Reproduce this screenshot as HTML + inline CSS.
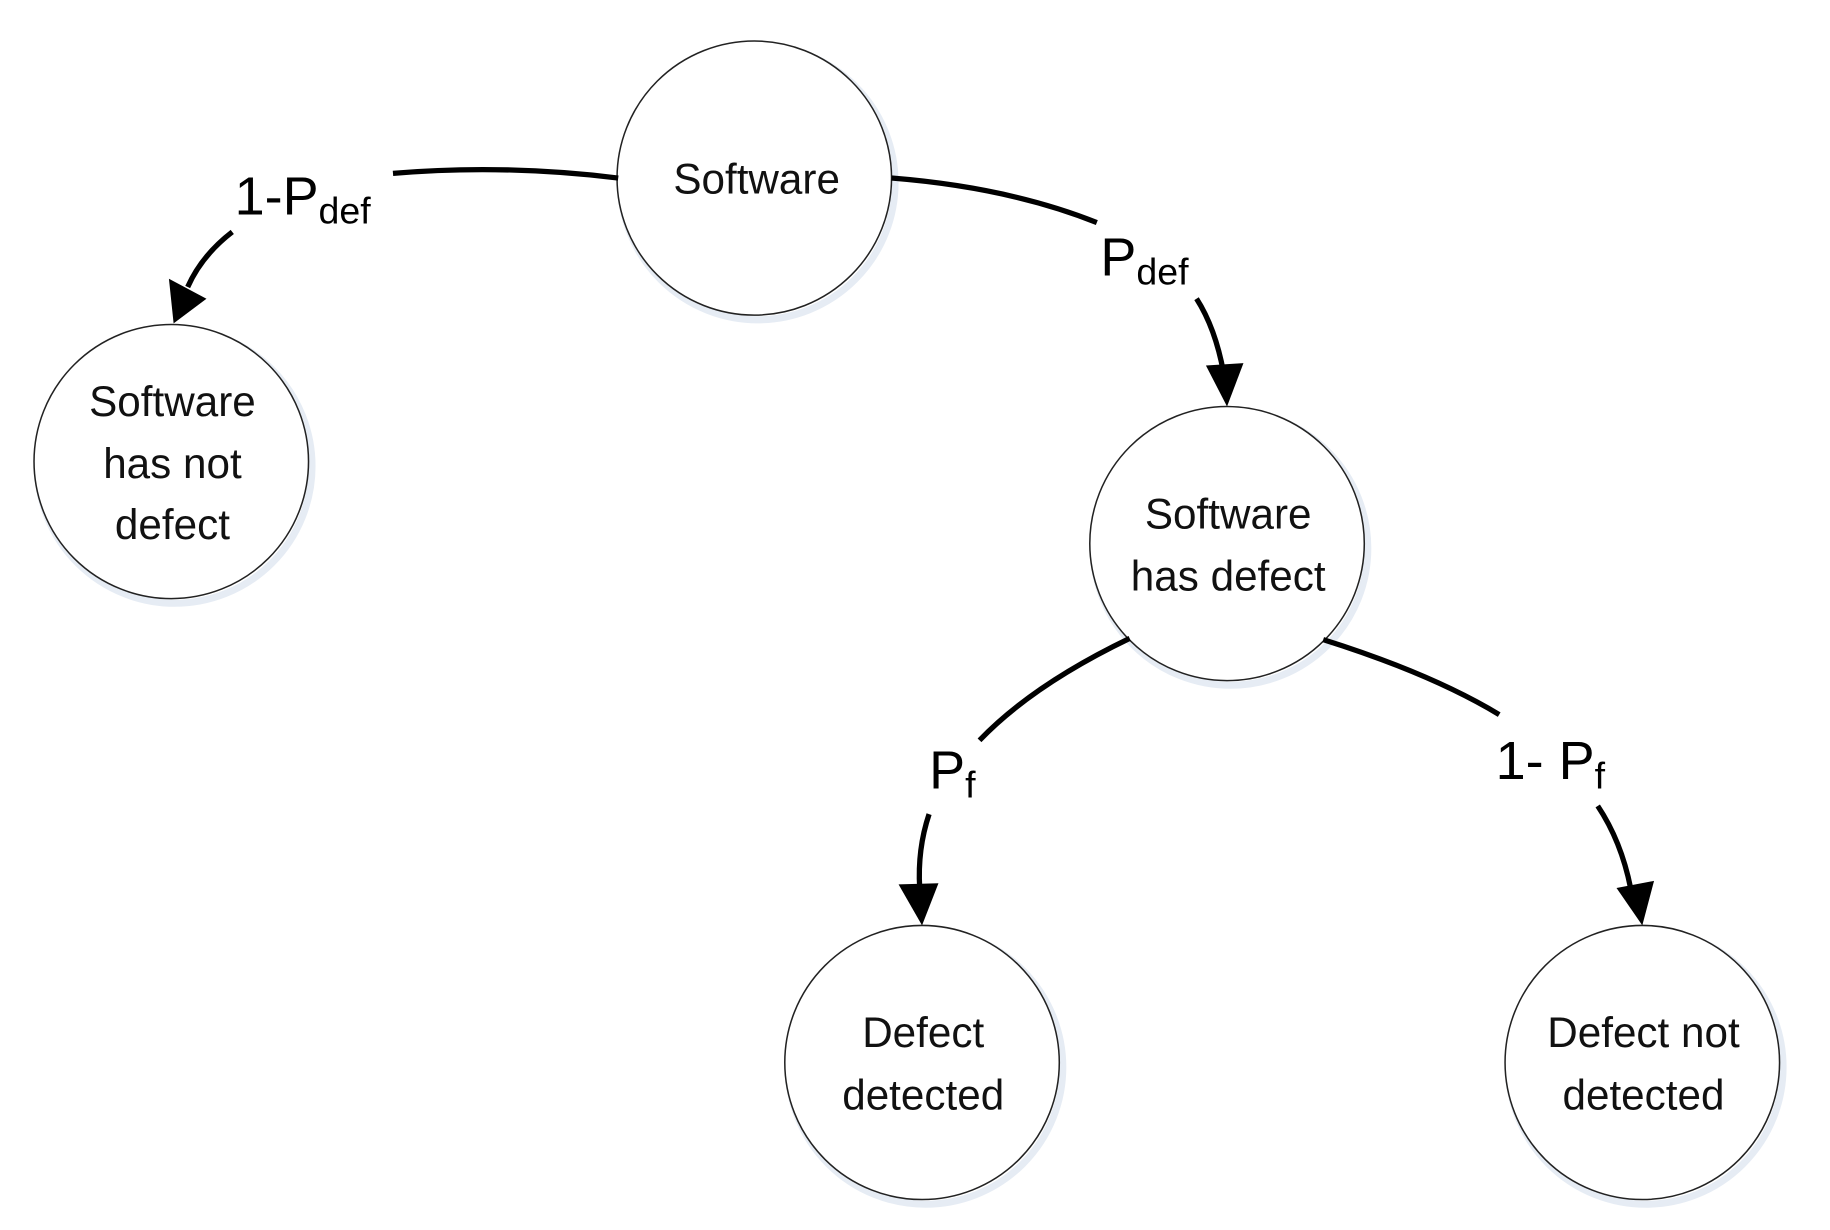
<!DOCTYPE html>
<html><head><style>html,body{margin:0;padding:0;background:#fff}svg{display:block}</style></head>
<body>
<svg width="1830" height="1230" viewBox="0 0 1560 1050" preserveAspectRatio="none" xmlns="http://www.w3.org/2000/svg">
<defs>
<marker id="a" markerWidth="10" markerHeight="10" refX="9" refY="5" orient="auto" markerUnits="userSpaceOnUse" viewBox="0 0 10 10"></marker>
</defs>
<g fill="#fff" stroke="#e6ecf4" stroke-width="6">
<circle cx="646" cy="156" r="117"/><circle cx="149" cy="398" r="117"/><circle cx="1049" cy="468" r="117"/><circle cx="789" cy="911" r="117"/><circle cx="1403" cy="911" r="117"/>
</g>
<g fill="#fff" stroke="#222" stroke-width="1.3">
<circle cx="643" cy="152" r="117"/><circle cx="146" cy="394" r="117"/><circle cx="1046" cy="464" r="117"/><circle cx="786" cy="907" r="117"/><circle cx="1400" cy="907" r="117"/>
</g>
<g fill="none" stroke="#000" stroke-width="4.5">
<path d="M527,152 Q430,140 335,148"/>
<path d="M198,198 Q172,218 160,245"/>
<path d="M760,152 Q860,160 935,190"/>
<path d="M1020,255 Q1036,280 1043,318"/>
<path d="M963,545 Q880,585 835,632"/>
<path d="M792,695 Q782,725 784,758"/>
<path d="M1128,546 Q1220,575 1278,610"/>
<path d="M1362,688 Q1382,718 1390,758"/>
</g>
<g fill="#000">
<polygon points="148,276 144,238 176,255"/>
<polygon points="1046,347 1028,312 1060,310"/>
<polygon points="786,790 766,755 800,754"/>
<polygon points="1400,790 1378,758 1410,752"/>
</g>
<g font-family="'Liberation Sans',sans-serif" font-size="36" text-anchor="middle" fill="#111">
<text x="645" y="165">Software</text>
<text x="147" y="355">Software</text><text x="147" y="408">has not</text><text x="147" y="460">defect</text>
<text x="1047" y="451">Software</text><text x="1047" y="504">has  defect</text>
<text x="787" y="894">Defect</text><text x="787" y="947">detected</text>
<text x="1401" y="894">Defect not</text><text x="1401" y="947">detected</text>
</g>
<g font-family="'Liberation Sans',sans-serif" font-size="46" fill="#000">
<text x="200" y="183">1-P<tspan font-size="32" dy="8">def</tspan></text>
<text x="938" y="235">P<tspan font-size="32" dy="8">def</tspan></text>
<text x="792" y="673">P<tspan font-size="32" dy="8">f</tspan></text>
<text x="1275" y="665">1- P<tspan font-size="32" dy="8">f</tspan></text>
</g>
</svg>
</body></html>
